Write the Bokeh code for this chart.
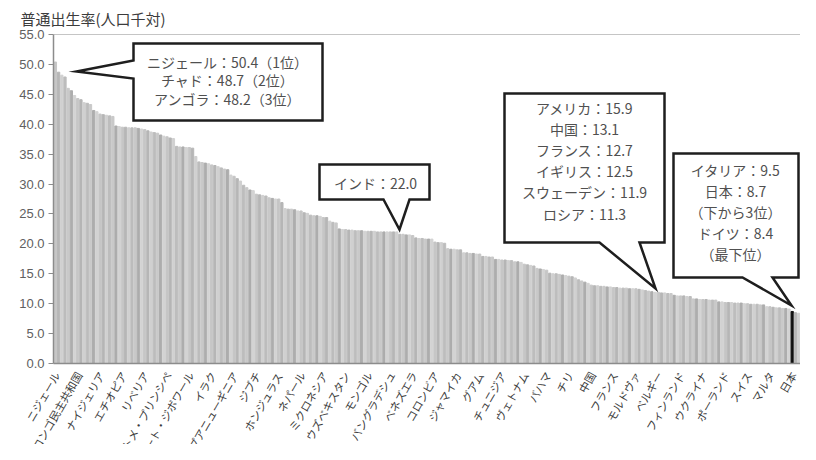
import math
from bokeh.plotting import figure
from bokeh.layouts import column
from bokeh.models import (Range1d, FixedTicker, NumeralTickFormatter, Label,
                          Span, ColumnDataSource)
from bokeh.core.properties import value
from bokeh.embed import file_html
from bokeh.resources import INLINE

# ---------------- data ----------------
# crude birth rate (per 1,000 population), countries sorted in descending order
birth_rate = [
    50.4, 48.7, 48.2, 47.9, 46.0, 45.6, 44.8, 44.3, 44.1, 43.6,
    43.5, 43.3, 42.3, 42.1, 41.7, 41.6, 41.5, 41.4, 41.3, 39.7,
    39.6, 39.5, 39.5, 39.4, 39.4, 39.4, 39.3, 39.2, 39.1, 38.9,
    38.7, 38.6, 38.5, 38.2, 38.0, 37.9, 37.7, 37.6, 36.3, 36.2,
    36.2, 36.1, 36.1, 36.0, 34.6, 33.7, 33.6, 33.5, 33.4, 33.2,
    33.1, 32.9, 32.7, 32.5, 32.4, 31.5, 31.3, 30.9, 30.5, 29.8,
    29.4, 29.0, 28.9, 28.3, 28.2, 28.1, 28.0, 27.7, 27.6, 27.5,
    27.5, 26.9, 25.9, 25.8, 25.8, 25.7, 25.5, 25.5, 25.2, 25.1,
    24.8, 24.7, 24.7, 24.6, 24.4, 24.4, 23.8, 23.6, 23.5, 22.5,
    22.4, 22.4, 22.3, 22.3, 22.2, 22.2, 22.2, 22.1, 22.1, 22.1,
    22.1, 22.0, 22.0, 22.0, 22.0, 22.0, 22.0, 22.0, 21.6, 21.6,
    21.5, 21.5, 21.4, 21.0, 20.9, 20.9, 20.8, 20.8, 20.8, 20.3,
    20.2, 20.2, 20.1, 19.2, 19.1, 19.1, 19.0, 19.0, 18.5, 18.5,
    18.4, 18.4, 18.3, 18.3, 17.9, 17.9, 17.8, 17.8, 17.4, 17.4,
    17.3, 17.3, 17.2, 17.2, 17.0, 17.0, 16.9, 16.6, 16.5, 16.4,
    16.3, 15.9, 15.8, 15.7, 15.6, 15.1, 15.0, 15.0, 14.9, 14.8,
    14.7, 14.6, 14.5, 14.3, 14.0, 13.8, 13.6, 13.4, 13.1, 13.0,
    13.0, 12.9, 12.9, 12.8, 12.8, 12.7, 12.7, 12.6, 12.6, 12.6,
    12.5, 12.5, 12.5, 12.4, 12.3, 12.2, 12.1, 12.0, 11.9, 11.9,
    11.8, 11.8, 11.7, 11.7, 11.4, 11.3, 11.3, 11.3, 11.2, 11.2,
    10.8, 10.8, 10.7, 10.7, 10.7, 10.6, 10.6, 10.6, 10.3, 10.3,
    10.2, 10.2, 10.2, 10.1, 10.1, 10.1, 10.0, 10.0, 9.9, 9.9,
    9.9, 9.8, 9.8, 9.5, 9.5, 9.4, 9.3, 9.3, 9.2, 9.2,
    9.1, 8.7, 8.5, 8.4,
]

tick_index = [0, 7, 14, 21, 28, 35, 42, 49, 56, 63, 70, 77, 84, 91, 98, 105, 112,
              119, 126, 133, 140, 147, 154, 161, 168, 175, 182, 189, 196, 203, 210,
              217, 224, 231]
tick_labels = ["ニジェール", "コンゴ民主共和国", "ナイジェリア", "エチオピア", "リベリア",
               "サントメ・プリンシペ", "コート・ジボワール", "イラク", "パプアニューギニア",
               "ジブチ", "ホンジュラス", "ネパール", "ミクロネシア", "ウズベキスタン",
               "モンゴル", "バングラデシュ", "ベネズエラ", "コロンビア", "ジャマイカ",
               "グアム", "チュニジア", "ヴェトナム", "バハマ", "チリ", "中国", "フランス",
               "モルドヴァ", "ベルギー", "フィンランド", "ウクライナ", "ポーランド",
               "スイス", "マルタ", "日本"]
y_ticks = [0, 5, 10, 15, 20, 25, 30, 35, 40, 45, 50, 55]
japan_index = 231
y_title = "普通出生率(人口千対)"

callout_top3 = ["ニジェール：50.4（1位）", "チャド：48.7（2位）", "アンゴラ：48.2（3位）"]
callout_india = ["インド：22.0"]
callout_mid = ["アメリカ：15.9", "中国：13.1", "フランス：12.7", "イギリス：12.5",
               "スウェーデン：11.9", "ロシア：11.3"]
callout_low = ["イタリア：9.5", "日本：8.7", "（下から3位）", "ドイツ：8.4", "（最下位）"]

# ---------------- layout ----------------
JP = "Noto Sans CJK JP"
W, H = 800, 444
FL, FT, FW, FH = 53, 34, 747, 329       # plot frame in px
BB = 8                                   # border under the frame (x axis line)
PH = FT + FH + BB                        # height of the bar figure
XS, XE = -0.6, 233.6
YS, YE = 0, 55
UPX = (XE - XS) / FW                     # data units per px


def dx(X):   # page px -> data x
    return XS + (X - FL) * UPX


def dy(Y):   # page px -> data y
    return YS + (FT + FH - Y) * (YE - YS) / FH


gray_cycle = ["#c6c6c6", "#b6b6b6", "#d0d0d0", "#bdbdbd", "#c9c9c9", "#adadad", "#d3d3d3"]
idx = list(range(len(birth_rate)))
colors = ["#111111" if i == japan_index else gray_cycle[i % len(gray_cycle)] for i in idx]

p = figure(width=W, height=PH, output_backend="svg", toolbar_location=None,
           x_range=Range1d(XS, XE), y_range=Range1d(YS, YE),
           min_border_left=FL, min_border_right=0, min_border_top=FT,
           min_border_bottom=BB, title=y_title)
p.frame_align = False
p.outline_line_color = None
p.xgrid.visible = False
p.ygrid.visible = False
p.title.align = "left"
p.title.offset = -33
p.title.text_font = JP
p.title.text_font_size = "15px"
p.title.text_font_style = "normal"
p.title.text_color = "#3c3c3c"
p.title.standoff = 11

src = ColumnDataSource(dict(x=idx, top=birth_rate, color=colors))
p.vbar(x="x", top="top", bottom=0, width=0.72, color="color", source=src)

p.yaxis.ticker = FixedTicker(ticks=y_ticks)
p.yaxis.formatter = NumeralTickFormatter(format="0.0")
p.yaxis.axis_line_color = "#8c8c8c"
p.yaxis.axis_line_width = 1.5
p.yaxis.major_tick_line_color = "#8c8c8c"
p.yaxis.major_tick_out = 5
p.yaxis.major_tick_in = 0
p.yaxis.minor_tick_line_color = None
p.yaxis.major_label_text_color = "#606060"
p.yaxis.major_label_text_font = "Liberation Sans"
p.yaxis.major_label_text_font_size = "13px"
p.yaxis.major_label_standoff = 4

p.xaxis.ticker = FixedTicker(ticks=[])
p.xaxis.axis_line_color = "#8c8c8c"
p.xaxis.axis_line_width = 1.5
p.xaxis.major_tick_line_color = None
p.xaxis.minor_tick_line_color = None
p.xaxis.major_tick_out = 0
p.xaxis.major_label_standoff = 0
p.xaxis.major_label_text_font_size = "0px"

p.add_layout(Span(location=55, dimension="width", line_color="#8c8c8c", line_width=1.2))


def callout(box, tip, leg, side, lines, cx, y0, step):
    L, T, R, B = box
    if side == "left":
        pts = [(L, T), (R, T), (R, B), (L, B), (L, leg[1]), tip, (L, leg[0])]
    else:
        pts = [(L, T), (R, T), (R, B), (leg[1], B), tip, (leg[0], B), (L, B)]
    p.patch([dx(a) for a, b in pts], [dy(b) for a, b in pts], fill_color="white",
            line_color="#1e1e1e", line_width=2.5, line_join="miter")
    for k, s in enumerate(lines):
        p.add_layout(Label(x=dx(cx), y=dy(y0 + k * step), text=s, text_font=JP,
                           text_font_size="14px", text_color="#505050",
                           text_align="center", text_baseline="middle"))


callout((133, 43, 322, 120), (76, 71), (60, 78), "left", callout_top3, 227, 61, 18.5)
callout((319, 164, 429, 199), (399, 229), (383, 409), "bottom", callout_india, 375, 182, 0)
callout((504, 93, 664, 242), (655, 288), (599, 639), "bottom", callout_mid, 584, 107, 21.2)
callout((673, 153, 798, 277), (791, 305), (742, 772), "bottom", callout_low, 735, 169, 21)

# strip below the bars holding the rotated country names (spans the full width)
QH = H - PH
q = figure(width=W, height=QH, output_backend="svg", toolbar_location=None,
           x_range=Range1d(XS - FL * UPX, XE), y_range=Range1d(-QH, 0),
           min_border_left=0, min_border_right=0, min_border_top=0, min_border_bottom=0)
q.frame_align = False
q.axis.visible = False
q.xgrid.visible = False
q.ygrid.visible = False
q.outline_line_color = None
lab_src = ColumnDataSource(dict(x=tick_index, y=[FT + FH + 7 - PH] * len(tick_index),
                                t=tick_labels))
q.text(x="x", y="y", text="t", source=lab_src, angle=math.pi / 3, x_offset=1,
       text_align="right", text_baseline="middle", text_font=value(JP),
       text_font_size="11px", text_color="#3c3c3c")

open("out.html", "w").write(file_html(column(p, q, spacing=0), INLINE))
